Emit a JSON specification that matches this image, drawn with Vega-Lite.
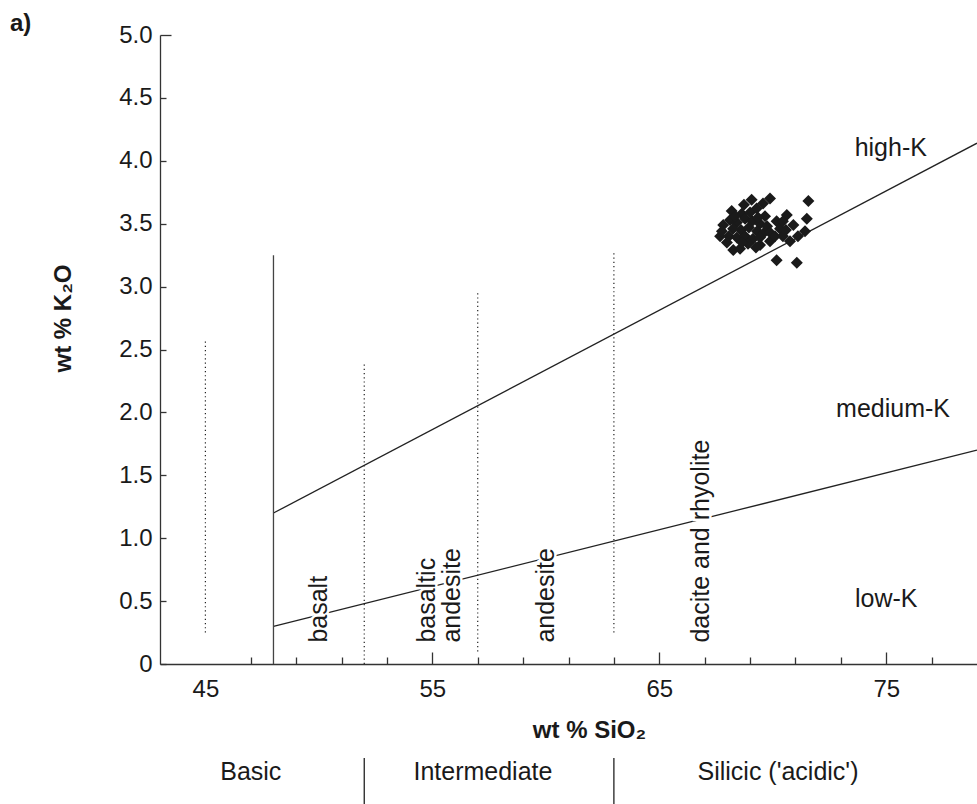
{
  "$schema": "https://vega.github.io/schema/vega-lite/v6.json",
  "width": 817,
  "height": 629,
  "autosize": {"type": "none"},
  "padding": {"left": 160, "top": 35, "right": 0, "bottom": 140},
  "background": "white",
  "config": {
    "view": {"stroke": null},
    "font": "Liberation Sans",
    "axis": {
      "grid": false,
      "domainColor": "#333333",
      "tickColor": "#333333",
      "labelColor": "#1a1a1a",
      "titleColor": "#1a1a1a",
      "labelFont": "Liberation Sans",
      "titleFont": "Liberation Sans",
      "labelFontSize": 24,
      "titleFontSize": 24,
      "titleFontWeight": "bold",
      "domainWidth": 1.3,
      "tickWidth": 1.3,
      "labelFlush": false,
      "labelOverlap": false
    }
  },
  "title": {
    "text": "a)",
    "anchor": "start",
    "frame": "group",
    "fontSize": 24,
    "fontWeight": "bold",
    "font": "Liberation Sans",
    "color": "#1a1a1a",
    "dx": -150,
    "dy": 38,
    "baseline": "alphabetic",
    "offset": 6
  },
  "datasets": {
    "bounds": [
      {"b": "high", "x": 48, "y": 1.2},
      {"b": "high", "x": 79, "y": 4.14},
      {"b": "low", "x": 48, "y": 0.3},
      {"b": "low", "x": 79, "y": 1.7}
    ],
    "dotted": [
      {"x": 45, "y0": 0.25, "y1": 2.57},
      {"x": 52, "y0": 0, "y1": 2.4},
      {"x": 57, "y0": 0.1, "y1": 2.97},
      {"x": 63, "y0": 0.25, "y1": 3.28}
    ],
    "solid": [
      {"x": 48, "y0": 0, "y1": 3.25}
    ],
    "rocks": [
      {"label": "basalt", "x": 50.0, "y": 0.17},
      {"label": "basaltic\nandesite", "x": 54.77, "y": 0.17},
      {"label": "andesite", "x": 60.0, "y": 0.17},
      {"label": "dacite and rhyolite", "x": 66.84, "y": 0.17}
    ],
    "kseries": [
      {"label": "high-K", "x": 75.2, "y": 4.1},
      {"label": "medium-K", "x": 75.3, "y": 2.03},
      {"label": "low-K", "x": 75.0, "y": 0.52}
    ],
    "classes": [
      {"label": "Basic", "x": 47.0, "y": -0.86},
      {"label": "Intermediate", "x": 57.23, "y": -0.86},
      {"label": "Silicic ('acidic')", "x": 70.23, "y": -0.86}
    ],
    "separators": [
      {"x": 52, "y0": -0.747, "y1": -1.12},
      {"x": 63, "y0": -0.747, "y1": -1.12}
    ],
    "samples": [
      {"sio2": 69.07, "k2o": 3.69}, {"sio2": 69.88, "k2o": 3.70}, {"sio2": 71.57, "k2o": 3.68},
      {"sio2": 68.19, "k2o": 3.60}, {"sio2": 70.62, "k2o": 3.57}, {"sio2": 71.50, "k2o": 3.54},
      {"sio2": 67.82, "k2o": 3.49}, {"sio2": 67.68, "k2o": 3.40}, {"sio2": 70.17, "k2o": 3.21},
      {"sio2": 71.06, "k2o": 3.19}, {"sio2": 71.42, "k2o": 3.44}, {"sio2": 70.76, "k2o": 3.36},
      {"sio2": 68.26, "k2o": 3.29}, {"sio2": 68.56, "k2o": 3.30}, {"sio2": 69.44, "k2o": 3.33},
      {"sio2": 69.88, "k2o": 3.36}, {"sio2": 70.17, "k2o": 3.52}, {"sio2": 70.32, "k2o": 3.46},
      {"sio2": 70.91, "k2o": 3.49}, {"sio2": 69.29, "k2o": 3.62}, {"sio2": 68.63, "k2o": 3.58},
      {"sio2": 69.66, "k2o": 3.56}, {"sio2": 68.12, "k2o": 3.53}, {"sio2": 68.42, "k2o": 3.51},
      {"sio2": 68.78, "k2o": 3.54}, {"sio2": 69.09, "k2o": 3.52}, {"sio2": 69.44, "k2o": 3.50},
      {"sio2": 68.25, "k2o": 3.46}, {"sio2": 68.60, "k2o": 3.45}, {"sio2": 68.95, "k2o": 3.47},
      {"sio2": 69.31, "k2o": 3.44}, {"sio2": 69.62, "k2o": 3.43}, {"sio2": 68.07, "k2o": 3.40},
      {"sio2": 68.42, "k2o": 3.39}, {"sio2": 68.78, "k2o": 3.40}, {"sio2": 69.13, "k2o": 3.38},
      {"sio2": 69.44, "k2o": 3.39}, {"sio2": 68.91, "k2o": 3.34}, {"sio2": 69.26, "k2o": 3.31},
      {"sio2": 68.65, "k2o": 3.35}, {"sio2": 69.75, "k2o": 3.48}, {"sio2": 69.88, "k2o": 3.43},
      {"sio2": 70.10, "k2o": 3.40}, {"sio2": 70.45, "k2o": 3.40}, {"sio2": 70.58, "k2o": 3.45},
      {"sio2": 67.98, "k2o": 3.35}, {"sio2": 69.00, "k2o": 3.59}, {"sio2": 69.35, "k2o": 3.55},
      {"sio2": 69.57, "k2o": 3.66}, {"sio2": 68.73, "k2o": 3.65}, {"sio2": 70.45, "k2o": 3.52},
      {"sio2": 71.11, "k2o": 3.40}, {"sio2": 68.34, "k2o": 3.56}, {"sio2": 67.76, "k2o": 3.44}
    ]
  },
  "layer": [
    {
      "data": {"name": "bounds"},
      "mark": {"type": "line", "color": "#222222", "strokeWidth": 1.3},
      "encoding": {
        "x": {
          "field": "x",
          "type": "quantitative",
          "scale": {"domain": [43, 79], "nice": false, "zero": false},
          "axis": {
            "title": "wt % SiO₂",
            "values": [45, 47, 49, 51, 53, 55, 57, 59, 61, 63, 65, 67, 69, 71, 73, 75, 77],
            "labelExpr": "datum.value % 10 == 5 ? datum.label : ''",
            "tickSize": {"condition": {"test": "datum.value % 10 == 5", "value": -12}, "value": -7},
            "tickOpacity": {"condition": {"test": "datum.value == 45", "value": 0}, "value": 1},
            "labelPadding": 25,
            "titleX": 429,
            "titleY": 73,
            "titleBaseline": "alphabetic",
            "titleAlign": "center"
          }
        },
        "y": {
          "field": "y",
          "type": "quantitative",
          "scale": {"domain": [0, 5], "nice": false, "zero": false},
          "axis": {
            "title": "wt % K₂O",
            "values": [0, 0.5, 1, 1.5, 2, 2.5, 3, 3.5, 4, 4.5, 5],
            "labelExpr": "datum.value == 0 ? '0' : format(datum.value, '.1f')",
            "tickSize": {"condition": {"test": "datum.value == 5", "value": -11}, "value": -6},
            "labelPadding": {"condition": {"test": "datum.value == 5", "value": 19}, "value": 14},
            "titleAngle": 270,
            "titleX": -90,
            "titleY": 283,
            "titleBaseline": "alphabetic",
            "titleAlign": "center"
          }
        },
        "detail": {"field": "b", "type": "nominal"}
      }
    },
    {
      "data": {"name": "dotted"},
      "mark": {"type": "rule", "color": "#222222", "strokeWidth": 1.2, "strokeDash": [1.2, 3]},
      "encoding": {
        "x": {"field": "x", "type": "quantitative"},
        "y": {"field": "y0", "type": "quantitative"},
        "y2": {"field": "y1"}
      }
    },
    {
      "data": {"name": "solid"},
      "mark": {"type": "rule", "color": "#444444", "strokeWidth": 1.3},
      "encoding": {
        "x": {"field": "x", "type": "quantitative"},
        "y": {"field": "y0", "type": "quantitative"},
        "y2": {"field": "y1"}
      }
    },
    {
      "data": {"name": "rocks"},
      "mark": {"type": "text", "angle": 270, "align": "left", "baseline": "middle", "fontSize": 25, "font": "Liberation Sans", "lineBreak": "\n", "lineHeight": 25, "fill": "white", "stroke": "white", "strokeWidth": 5},
      "encoding": {
        "x": {"field": "x", "type": "quantitative"},
        "y": {"field": "y", "type": "quantitative"},
        "text": {"field": "label", "type": "nominal"}
      }
    },
    {
      "data": {"name": "rocks"},
      "mark": {"type": "text", "angle": 270, "align": "left", "baseline": "middle", "fontSize": 25, "font": "Liberation Sans", "lineBreak": "\n", "lineHeight": 25, "color": "#1a1a1a"},
      "encoding": {
        "x": {"field": "x", "type": "quantitative"},
        "y": {"field": "y", "type": "quantitative"},
        "text": {"field": "label", "type": "nominal"}
      }
    },
    {
      "data": {"name": "kseries"},
      "mark": {"type": "text", "align": "center", "baseline": "middle", "fontSize": 25, "font": "Liberation Sans", "color": "#1a1a1a"},
      "encoding": {
        "x": {"field": "x", "type": "quantitative"},
        "y": {"field": "y", "type": "quantitative"},
        "text": {"field": "label", "type": "nominal"}
      }
    },
    {
      "data": {"name": "samples"},
      "mark": {"type": "point", "shape": "diamond", "filled": true, "size": 144, "color": "#1a1a1a", "opacity": 1},
      "encoding": {
        "x": {"field": "sio2", "type": "quantitative"},
        "y": {"field": "k2o", "type": "quantitative"}
      }
    },
    {
      "data": {"name": "classes"},
      "mark": {"type": "text", "align": "center", "baseline": "middle", "fontSize": 25, "font": "Liberation Sans", "color": "#1a1a1a"},
      "encoding": {
        "x": {"field": "x", "type": "quantitative"},
        "y": {"field": "y", "type": "quantitative"},
        "text": {"field": "label", "type": "nominal"}
      }
    },
    {
      "data": {"name": "separators"},
      "mark": {"type": "rule", "color": "#222222", "strokeWidth": 1.3},
      "encoding": {
        "x": {"field": "x", "type": "quantitative"},
        "y": {"field": "y0", "type": "quantitative"},
        "y2": {"field": "y1"}
      }
    }
  ]
}
